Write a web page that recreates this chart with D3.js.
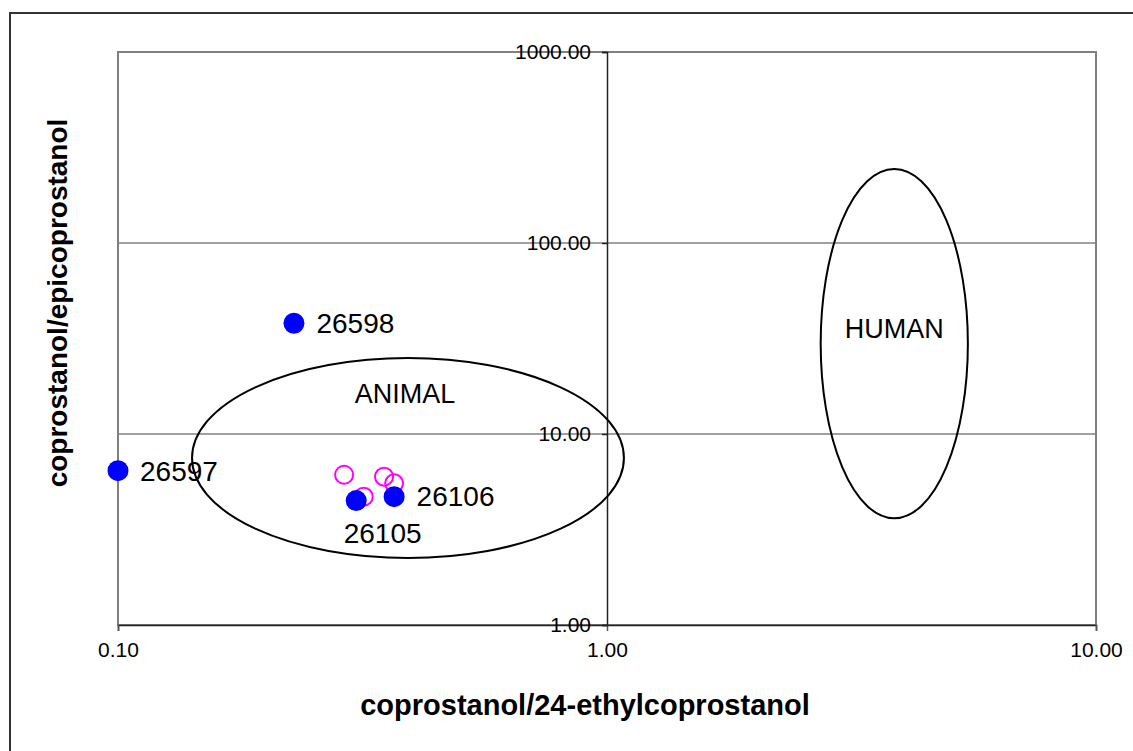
<!DOCTYPE html>
<html>
<head>
<meta charset="utf-8">
<script src="https://cdn.jsdelivr.net/npm/d3@7"></script>
<style>
  html, body { margin: 0; padding: 0; background: #fff; }
  svg { display: block; font-family: "Liberation Sans", Arial, Helvetica, sans-serif; }
</style>
</head>
<body>
<svg id="chart" width="1133" height="751"></svg>
<script>
// Sample points (filled blue) with their IDs
const sampleIds = ["26597", "26598", "26105", "26106"];
const sampleX = [0.100, 0.229, 0.307, 0.367];
const sampleY = [6.43, 38.0, 4.48, 4.70];

// Reference animal samples (open magenta circles)
const refX = [0.290, 0.318, 0.350, 0.367];
const refY = [6.12, 4.70, 5.98, 5.52];

// Source regions: bounding box of each ellipse in data units
const regionNames = ["ANIMAL", "HUMAN"];
const regionXMin = [0.1417, 2.735];
const regionXMax = [1.083, 5.47];
const regionYMin = [2.243, 3.62];
const regionYMax = [25.0, 243.9];

// Axis ticks
const xTicks = [0.1, 1, 10];
const xTickLabels = ["0.10", "1.00", "10.00"];
const yTicks = [1, 10, 100, 1000];
const yTickLabels = ["1.00", "10.00", "100.00", "1000.00"];

const xTitle = "coprostanol/24-ethylcoprostanol";
const yTitle = "coprostanol/epicoprostanol";

(function () {
  const svg = d3.select("#chart");

  // Plot area
  const pLeft = 118, pRight = 1096, pTop = 52, pBottom = 625;

  const x = d3.scaleLog().domain([0.1, 10]).range([pLeft, pRight]);
  const y = d3.scaleLog().domain([1, 1000]).range([pBottom, pTop]);

  // Outer chart frame (right/bottom edges run past the page)
  svg.append("rect")
    .attr("x", 10).attr("y", 13)
    .attr("width", 1200).attr("height", 800)
    .attr("fill", "none").attr("stroke", "#333").attr("stroke-width", 2);

  // Plot area border
  svg.append("rect")
    .attr("x", pLeft).attr("y", pTop)
    .attr("width", pRight - pLeft).attr("height", pBottom - pTop)
    .attr("fill", "none").attr("stroke", "#808080").attr("stroke-width", 2);

  // Horizontal gridlines
  svg.append("g")
    .selectAll("line")
    .data(yTicks.filter(v => v > 1 && v < 1000))
    .join("line")
    .attr("x1", pLeft).attr("x2", pRight)
    .attr("y1", d => y(d)).attr("y2", d => y(d))
    .attr("stroke", "#808080").attr("stroke-width", 1.3);

  // X axis at y = 1
  const xAxis = d3.axisBottom(x)
    .tickValues(xTicks)
    .tickFormat((d, i) => xTickLabels[i])
    .tickSize(6)
    .tickPadding(11);
  const gx = svg.append("g")
    .attr("transform", `translate(0,${y(1)})`)
    .call(xAxis);
  gx.select(".domain").attr("stroke", "#222").attr("stroke-width", 1.5);
  gx.selectAll(".tick line").attr("stroke", "#555").attr("stroke-width", 1.5);
  gx.selectAll(".tick text")
    .attr("font-size", 21).attr("fill", "#000")
    .attr("font-family", "'Liberation Sans', Arial, sans-serif");

  // Y axis at x = 1
  const yAxis = d3.axisLeft(y)
    .tickValues(yTicks)
    .tickFormat((d, i) => yTickLabels[i])
    .tickSize(5)
    .tickPadding(11);
  const gy = svg.append("g")
    .attr("transform", `translate(${x(1)},0)`)
    .call(yAxis);
  gy.select(".domain").attr("stroke", "#222").attr("stroke-width", 1.5);
  gy.selectAll(".tick line").attr("stroke", "#222").attr("stroke-width", 1.5);
  gy.selectAll(".tick text")
    .attr("font-size", 21).attr("fill", "#000")
    .attr("font-family", "'Liberation Sans', Arial, sans-serif");

  // Source region ellipses
  const regions = regionNames.map((name, i) => ({
    name,
    x0: x(regionXMin[i]), x1: x(regionXMax[i]),
    y0: y(regionYMax[i]), y1: y(regionYMin[i])
  }));
  svg.append("g")
    .selectAll("ellipse")
    .data(regions)
    .join("ellipse")
    .attr("cx", d => (d.x0 + d.x1) / 2)
    .attr("cy", d => (d.y0 + d.y1) / 2)
    .attr("rx", d => (d.x1 - d.x0) / 2)
    .attr("ry", d => (d.y1 - d.y0) / 2)
    .attr("fill", "none").attr("stroke", "#000").attr("stroke-width", 2);

  // Region names
  const regionLabelPos = [
    { dx: -3, y: 403 },   // ANIMAL: upper part of ellipse
    { dx: 0, y: 338 }     // HUMAN
  ];
  svg.append("g")
    .selectAll("text")
    .data(regions)
    .join("text")
    .attr("x", (d, i) => (d.x0 + d.x1) / 2 + regionLabelPos[i].dx)
    .attr("y", (d, i) => regionLabelPos[i].y)
    .attr("text-anchor", "middle")
    .attr("font-size", 27)
    .attr("fill", "#000")
    .text(d => d.name);

  // Reference circles (open magenta)
  svg.append("g")
    .selectAll("circle")
    .data(refX.map((v, i) => ({ x: v, y: refY[i] })))
    .join("circle")
    .attr("cx", d => x(d.x)).attr("cy", d => y(d.y))
    .attr("r", 9)
    .attr("fill", "none").attr("stroke", "#FF00FF").attr("stroke-width", 2);

  // Sample points (filled blue)
  const samples = sampleIds.map((id, i) => ({ id, x: sampleX[i], y: sampleY[i] }));
  svg.append("g")
    .selectAll("circle")
    .data(samples)
    .join("circle")
    .attr("cx", d => x(d.x)).attr("cy", d => y(d.y))
    .attr("r", 10.5)
    .attr("fill", "#0000FF");

  // Sample ID labels
  const labelOffsets = {
    "26597": [22, 10.5],
    "26598": [22.5, 10],
    "26105": [-12.5, 42.5],
    "26106": [22.5, 9.5]
  };
  svg.append("g")
    .selectAll("text")
    .data(samples)
    .join("text")
    .attr("x", d => x(d.x) + labelOffsets[d.id][0])
    .attr("y", d => y(d.y) + labelOffsets[d.id][1])
    .attr("font-size", 28)
    .attr("fill", "#000")
    .text(d => d.id);

  // Axis titles
  svg.append("text")
    .attr("x", 585).attr("y", 715)
    .attr("text-anchor", "middle")
    .attr("font-size", 29).attr("font-weight", "bold")
    .text(xTitle);

  svg.append("text")
    .attr("transform", "translate(67,303) rotate(-90)")
    .attr("text-anchor", "middle")
    .attr("font-size", 28).attr("font-weight", "bold")
    .text(yTitle);
})();
</script>
</body>
</html>
